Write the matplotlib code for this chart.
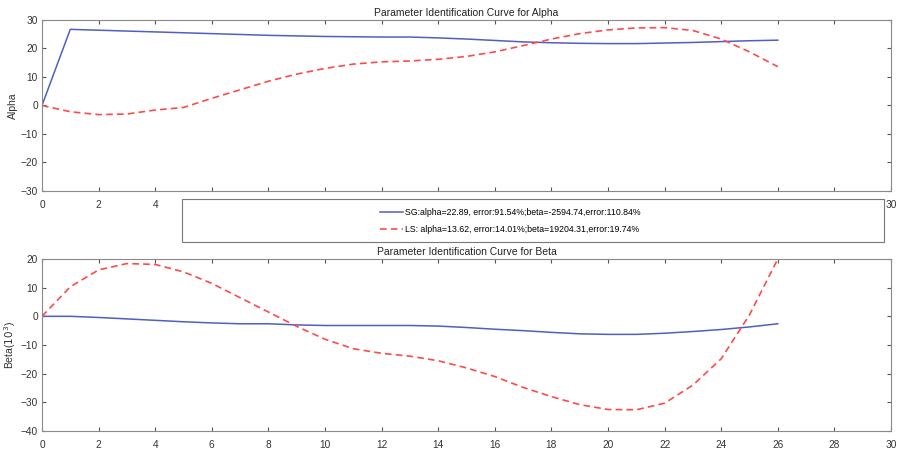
import numpy as np
import matplotlib.pyplot as plt
from matplotlib.patches import Rectangle

plt.rcParams['font.family'] = ['Liberation Sans', 'DejaVu Sans']

# iteration index
x = np.arange(0, 27)
xticks = np.arange(0, 31, 2)
# the legend box hides the middle of the top panel's tick labels
top_xlabels = ['0', '2', '4'] + [''] * 12 + ['30']

# alpha curves
sg_alpha = [0, 26.7, 26.4, 26.1, 25.8, 25.5, 25.2, 24.9, 24.6, 24.4, 24.2, 24.1, 24.0,
            24.0, 23.7, 23.3, 22.8, 22.3, 22.0, 21.8, 21.7, 21.7, 21.9, 22.1, 22.4, 22.7, 22.9]
ls_alpha = [0, -2.2, -3.2, -3.0, -1.6, -0.7, 2.5, 5.5, 8.5, 11.0, 13.0, 14.5, 15.3,
            15.6, 16.2, 17.2, 18.8, 21.0, 23.3, 25.2, 26.5, 27.2, 27.3, 26.3, 23.3, 18.8, 13.6]

# beta curves (x 10^3)
sg_beta = [0, 0, -0.4, -0.9, -1.4, -1.9, -2.3, -2.6, -2.6, -3.0, -3.2, -3.2, -3.2,
           -3.2, -3.4, -3.9, -4.5, -5.0, -5.6, -6.1, -6.3, -6.3, -5.9, -5.3, -4.6, -3.7, -2.6]
ls_beta = [0, 10.3, 16.2, 18.4, 18.1, 15.5, 11.5, 6.5, 1.5, -3.5, -8.0, -11.3, -12.9,
           -13.9, -15.5, -18.0, -21.0, -24.8, -28.0, -30.8, -32.5, -32.6, -30.3, -24.0, -14.8, 0.5, 20.0]

sg_label = 'SG:alpha=22.89, error:91.54%;beta=-2594.74,error:110.84%'
ls_label = 'LS: alpha=13.62, error:14.01%;beta=19204.31,error:19.74%'

blue = '#4f5fc4'
red = '#ff4a4a'

fig = plt.figure(figsize=(8.97, 4.49), dpi=100, facecolor='w')
ax1 = fig.add_axes([0.0468, 0.5746, 0.9465, 0.381])
ax2 = fig.add_axes([0.0468, 0.0401, 0.9465, 0.3831])

l1, = ax1.plot(x, sg_alpha, color=blue, lw=1.1)
l2, = ax1.plot(x, ls_alpha, color=red, lw=1.2, ls=(0, (4, 2.5)))
ax2.plot(x, sg_beta, color=blue, lw=1.1)
ax2.plot(x, ls_beta, color=red, lw=1.2, ls=(0, (4, 2.5)))

ax1.set_ylim(-30, 30)
ax1.set_yticks(np.arange(-30, 31, 10))
ax2.set_ylim(-40, 20)
ax2.set_yticks(np.arange(-40, 21, 10))

for ax in (ax1, ax2):
    ax.set_xlim(0, 30)
    ax.set_xticks(xticks)
    ax.tick_params(direction='in', top=True, right=True, labelsize=7.3,
                   colors='#555555', labelcolor='#333333', length=3)
    ax.tick_params(axis='x', pad=6.5)
    ax.tick_params(axis='y', pad=3)
    for s in ax.spines.values():
        s.set_color('#8a8a8a')
        s.set_linewidth(0.8)

ax1.set_xticklabels(top_xlabels)

ax1.set_title('Parameter Identification Curve for Alpha', fontsize=7.5, color='#222222', pad=3)
ax2.set_title('Parameter Identification Curve for Beta', fontsize=7.5, color='#222222', pad=3)
ax1.set_ylabel('Alpha', fontsize=7.5, color='#333333', labelpad=2)
ax2.set_ylabel('Beta($10^3$)', fontsize=7.5, color='#333333', labelpad=2)

# legend box between the two panels
fig.patches.append(Rectangle((0.2029, 0.4610), 0.7826, 0.0947, transform=fig.transFigure,
                             facecolor='white', edgecolor='#777777', lw=0.8, zorder=5))
fig.legend([l1, l2], [sg_label, ls_label], loc='center', bbox_to_anchor=(0.569, 0.508),
           frameon=False, fontsize=6.3, handlelength=2.6, handletextpad=0.3,
           labelspacing=0.9).set_zorder(6)

fig.savefig('out.png', dpi=100)
